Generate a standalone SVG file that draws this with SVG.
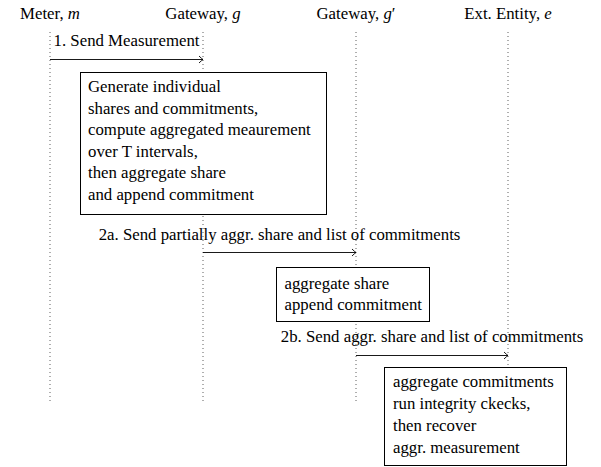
<svg xmlns="http://www.w3.org/2000/svg" width="601" height="467" viewBox="0 0 601 467" font-family="'Liberation Serif', 'Times New Roman', 'DejaVu Serif', serif">
<style>
text{font-family:'Liberation Serif','Times New Roman','DejaVu Serif',serif;font-size:16.8px;fill:#000}
.m{font-style:italic}
.life{stroke:#000;stroke-width:0.8;stroke-dasharray:0.8 3.2;fill:none}
.msg{stroke:#000;stroke-width:0.9;fill:none;marker-end:url(#arr)}
.box{fill:#fff;stroke:#000;stroke-width:1}
</style>
<defs>
<marker id="arr" markerWidth="10" markerHeight="10" refX="6" refY="5" orient="auto" markerUnits="userSpaceOnUse">
<path d="M2,1.5 Q4.5,4 6,5 Q4.5,6 2,8.5" fill="none" stroke="#000" stroke-width="0.9"/>
</marker>
</defs>
<rect width="601" height="467" fill="#fff"/>
<g id="lifelines">
<line class="life" x1="50" y1="32" x2="50" y2="404"/>
<line class="life" x1="203" y1="32" x2="203" y2="404"/>
<line class="life" x1="356" y1="32" x2="356" y2="404"/>
<line class="life" x1="508" y1="32" x2="508" y2="404"/>
</g>
<g id="meter"><text x="50" y="19" text-anchor="middle">Meter, <tspan class="m">m</tspan></text></g>
<g id="gateway-g"><text x="203" y="19" text-anchor="middle">Gateway, <tspan class="m">g</tspan></text></g>
<g id="gateway-g2"><text x="356" y="19" text-anchor="middle">Gateway, <tspan class="m">g</tspan>′</text></g>
<g id="ext-entity"><text x="508" y="19" text-anchor="middle">Ext. Entity, <tspan class="m">e</tspan></text></g>
<g id="connectors">
<line class="msg" x1="50" y1="59.5" x2="203" y2="59.5"/>
<line class="msg" x1="203" y1="252.5" x2="356" y2="252.5"/>
<line class="msg" x1="356" y1="355.5" x2="508" y2="355.5"/>
<text x="126.5" y="46" text-anchor="middle">1. Send Measurement</text>
<text x="279.5" y="240" text-anchor="middle">2a. Send partially aggr. share and list of commitments</text>
<text x="432" y="342" text-anchor="middle">2b. Send aggr. share and list of commitments</text>
</g>
<g id="box1">
<rect class="box" x="80.5" y="72.5" width="246" height="142"/>
<text x="88" y="92">Generate individual</text>
<text x="88" y="113.5">shares and commitments,</text>
<text x="88" y="135">compute aggregated meaurement</text>
<text x="88" y="156.5">over T intervals,</text>
<text x="88" y="178">then aggregate share</text>
<text x="88" y="199.5">and append commitment</text>
</g>
<g id="box2">
<rect class="box" x="276.5" y="267.5" width="153" height="54"/>
<text x="284.5" y="288.5">aggregate share</text>
<text x="284.5" y="310">append commitment</text>
</g>
<g id="box3">
<rect class="box" x="384.5" y="367.5" width="182" height="98"/>
<text x="393" y="387">aggregate commitments</text>
<text x="393" y="409">run integrity ckecks,</text>
<text x="393" y="431">then recover</text>
<text x="393" y="453">aggr. measurement</text>
</g>
</svg>
